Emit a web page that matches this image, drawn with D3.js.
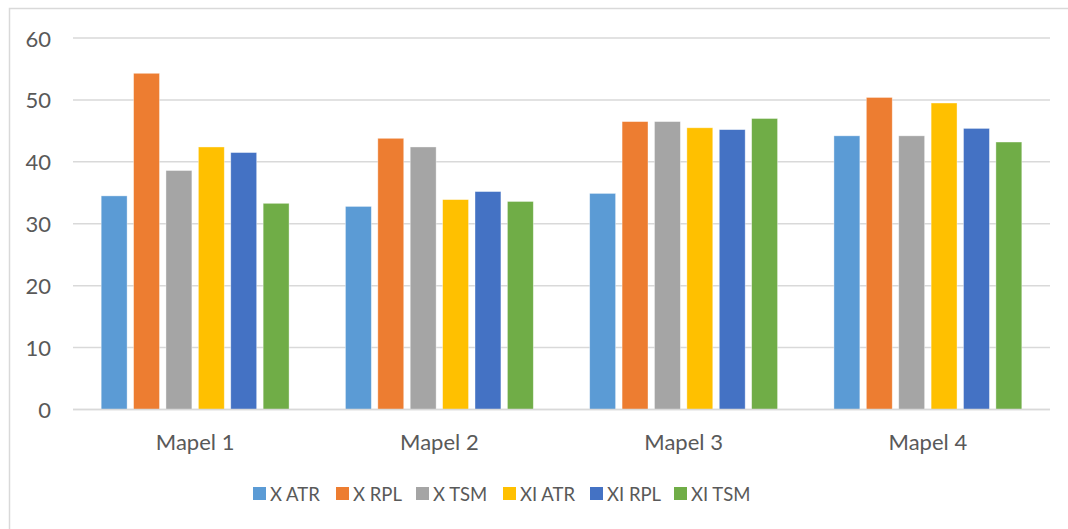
<!DOCTYPE html>
<html>
<head>
<meta charset="utf-8">
<script src="https://cdn.jsdelivr.net/npm/d3@7"></script>
<style>
  html, body { margin: 0; padding: 0; background: #fff; }
  svg { display: block; }
  text { font-family: Lato, "Open Sans", sans-serif; fill: #595959; }
</style>
</head>
<body>
<svg id="chart" width="1068" height="529"></svg>
<script>
// Subjects on the x axis
const categories = ["Mapel 1", "Mapel 2", "Mapel 3", "Mapel 4"];
// Class / programme series
const seriesNames = ["X ATR", "X RPL", "X TSM", "XI ATR", "XI RPL", "XI TSM"];
const seriesColors = ["#5B9BD5", "#ED7D31", "#A5A5A5", "#FFC000", "#4472C4", "#70AD47"];
// Scores per series, one value per subject
const xAtr  = [34.5, 32.8, 34.9, 44.2];
const xRpl  = [54.3, 43.8, 46.5, 50.4];
const xTsm  = [38.6, 42.4, 46.5, 44.2];
const xiAtr = [42.4, 33.9, 45.5, 49.5];
const xiRpl = [41.5, 35.2, 45.2, 45.4];
const xiTsm = [33.3, 33.6, 47.0, 43.2];
const seriesValues = [xAtr, xRpl, xTsm, xiAtr, xiRpl, xiTsm];
const yTicks = [0, 10, 20, 30, 40, 50, 60];

const svg = d3.select("#chart");

// chart frame (only top and left edges fall inside the canvas)
svg.append("rect")
  .attr("x", 9.5).attr("y", 8.5)
  .attr("width", 1080).attr("height", 540)
  .attr("fill", "#fff")
  .attr("stroke", "#d9d9d9").attr("stroke-width", 1.5);

const plot = { left: 73, right: 1050, top: 38, bottom: 409.5 };

const y = d3.scaleLinear().domain([0, 60]).range([plot.bottom, plot.top]);
const x0 = d3.scaleBand().domain(categories).range([plot.left, plot.right]).padding(0);
const x1 = d3.scaleBand().domain(seriesNames).range([0, x0.bandwidth()])
  .paddingInner(0.2).paddingOuter(0.87);

// horizontal gridlines
svg.append("g").selectAll("line")
  .data(yTicks)
  .join("line")
  .attr("x1", plot.left).attr("x2", plot.right)
  .attr("y1", d => y(d)).attr("y2", d => y(d))
  .attr("stroke", "#d9d9d9").attr("stroke-width", 1.5);

// y tick labels
svg.append("g").selectAll("text")
  .data(yTicks)
  .join("text")
  .attr("x", 51).attr("y", d => y(d))
  .attr("text-anchor", "end")
  .attr("dominant-baseline", "central")
  .attr("font-size", 22)
  .text(d => d);

// bars
const groups = svg.append("g").selectAll("g")
  .data(categories)
  .join("g")
  .attr("transform", d => `translate(${x0(d)},0)`);

groups.selectAll("rect")
  .data((c, ci) => seriesNames.map((s, si) => ({ s, si, v: seriesValues[si][ci] })))
  .join("rect")
  .attr("x", d => x1(d.s))
  .attr("width", x1.bandwidth())
  .attr("y", d => y(d.v))
  .attr("height", d => y(0) - y(d.v))
  .attr("fill", d => seriesColors[d.si])
  .attr("stroke", "#fff").attr("stroke-opacity", 0.5).attr("stroke-width", 0.75);

// baseline redrawn over bars
svg.append("line")
  .attr("x1", plot.left).attr("x2", plot.right)
  .attr("y1", y(0)).attr("y2", y(0))
  .attr("stroke", "#d9d9d9").attr("stroke-width", 1.5);

// category labels
svg.append("g").selectAll("text")
  .data(categories)
  .join("text")
  .attr("x", d => x0(d) + x0.bandwidth() / 2)
  .attr("y", 441)
  .attr("text-anchor", "middle")
  .attr("dominant-baseline", "central")
  .attr("font-size", 22)
  .text(d => d);

// legend
const legendX = [253, 336, 416, 503, 590, 674];
const legend = svg.append("g").selectAll("g")
  .data(seriesNames)
  .join("g")
  .attr("transform", (d, i) => `translate(${legendX[i]},487)`);
legend.append("rect")
  .attr("width", 13).attr("height", 13)
  .attr("fill", (d, i) => seriesColors[i]);
legend.append("text")
  .attr("x", 17).attr("y", 7)
  .attr("dominant-baseline", "central")
  .attr("font-size", 18.5)
  .text(d => d);
</script>
</body>
</html>
